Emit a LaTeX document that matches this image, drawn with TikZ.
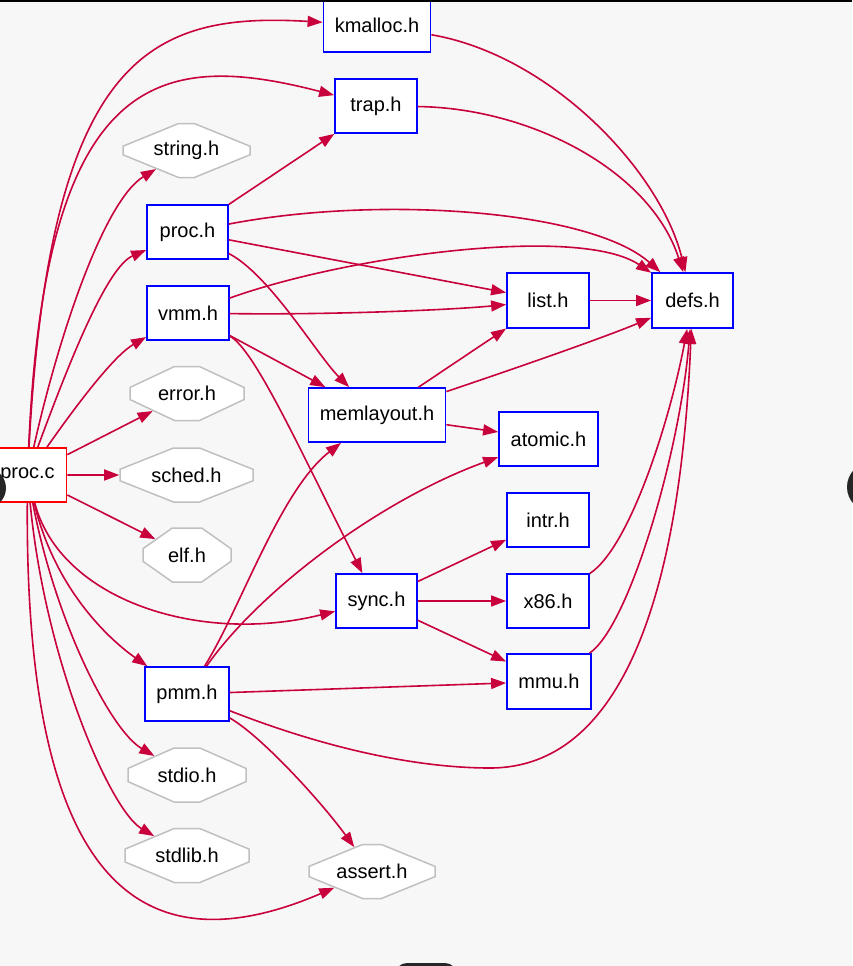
\documentclass[tikz,border=0pt]{standalone}
\usepackage{fontspec}
\setmainfont{Liberation Sans}
\usetikzlibrary{shapes.misc,arrows.meta}
\definecolor{edgec}{HTML}{C8003C}
\definecolor{bgc}{HTML}{F7F7F7}
\definecolor{octc}{HTML}{C0C0C0}
\definecolor{darkc}{HTML}{262626}
\begin{document}
\begin{tikzpicture}[x=1pt,y=-1pt,
  every node/.style={font=\fontsize{20}{24}\selectfont, inner sep=0pt},
  hbox/.style={draw=blue, fill=white, line width=1.8pt, minimum height=54pt},
  srcbox/.style={draw=red, fill=white, line width=1.8pt, minimum height=54pt},
  octa/.style 2 args={chamfered rectangle, draw=octc, fill=white, line width=1.5pt,
    chamfered rectangle xsep=#1pt, chamfered rectangle ysep=15.5pt,
    chamfered rectangle angle=#2, minimum height=54pt},
  dep/.style={draw=edgec, line width=1.6pt, -{Triangle[length=15pt,width=11pt]}},
]
\useasboundingbox (0,0) rectangle (852,966);
\fill[bgc] (0,0) rectangle (852,966);

\node[srcbox, minimum width=78pt] (procc) at (27.5,475) {proc.c};
\node[hbox, minimum width=107pt, minimum height=53pt] (kmalloc) at (377,25.5) {kmalloc.h};
\node[hbox, minimum width=82pt] (trap) at (376,106) {trap.h};
\node[octa={38}{67.8}, minimum width=127pt] (string) at (186.5,150.5) {string.h};
\node[hbox, minimum width=81pt] (proch) at (187.5,232) {proc.h};
\node[hbox, minimum width=82pt] (vmm) at (188,313) {vmm.h};
\node[octa={33}{64.8}, minimum width=114pt] (error) at (187,393.5) {error.h};
\node[hbox, minimum width=137pt] (memlayout) at (377,415) {memlayout.h};
\node[hbox, minimum width=82pt, minimum height=55pt] (list) at (548,300.5) {list.h};
\node[hbox, minimum width=81pt, minimum height=55pt] (defs) at (692.5,300.5) {defs.h};
\node[hbox, minimum width=99pt] (atomic) at (548.5,439) {atomic.h};
\node[octa={39}{68.3}, minimum width=133pt] (sched) at (186.5,475) {sched.h};
\node[octa={22}{54.8}, minimum width=88pt] (elf) at (187,555) {elf.h};
\node[hbox, minimum width=82pt] (intr) at (548,520) {intr.h};
\node[hbox, minimum width=81pt] (sync) at (376.5,601) {sync.h};
\node[hbox, minimum width=82pt] (x86) at (548,601) {x86.h};
\node[hbox, minimum width=84pt, minimum height=55pt] (mmu) at (549,681.5) {mmu.h};
\node[hbox, minimum width=84pt] (pmm) at (187,694) {pmm.h};
\node[octa={35}{66.1}, minimum width=118pt] (stdio) at (187,775) {stdio.h};
\node[octa={37}{67.3}, minimum width=124pt] (stdlib) at (187,855.5) {stdlib.h};
\node[octa={38}{67.8}, minimum width=126pt] (assert) at (372,871.5) {assert.h};

\draw[dep] (procc) .. controls (50,55) and (150,12) .. (kmalloc);
\draw[dep] (procc) .. controls (45,70) and (160,50) .. (trap);
\draw[dep] (procc) .. controls (60,330) and (105,200) .. (string);
\draw[dep] (procc) .. controls (70,360) and (107,267) .. (proch);
\draw[dep] (procc) .. controls (80,400) and (115,355) .. (vmm);
\draw[dep] (procc) -- (error);
\draw[dep] (procc) -- (sched);
\draw[dep] (procc) -- (elf);
\draw[dep] (procc) .. controls (60,600) and (200,645) .. (sync);
\draw[dep] (procc) .. controls (55,590) and (110,640) .. (pmm);
\draw[dep] (procc) .. controls (55,620) and (110,730) .. (stdio);
\draw[dep] (procc) .. controls (45,660) and (110,810) .. (stdlib);
\draw[dep] (procc) .. controls (25,850) and (120,980) .. (assert);

\draw[dep] (proch) -- (trap);
\draw[dep] (proch) .. controls (380,195) and (590,210) .. (defs);
\draw[dep] (proch) -- (list);
\draw[dep] (proch) .. controls (270,275) and (317,355) .. (memlayout);
\draw[dep] (vmm) .. controls (350,255) and (580,225) .. (defs);
\draw[dep] (vmm) .. controls (330,315) and (450,310) .. (list);
\draw[dep] (vmm) -- (memlayout);
\draw[dep] (vmm) .. controls (255,350) and (300,450) .. (sync);
\draw[dep] (memlayout) -- (list);
\draw[dep] (memlayout) .. controls (540,360) and (610,335) .. (defs);
\draw[dep] (memlayout) -- (atomic);
\draw[dep] (list) -- (defs);
\draw[dep] (kmalloc) .. controls (550,55) and (660,170) .. (defs);
\draw[dep] (trap) .. controls (530,108) and (650,170) .. (defs);
\draw[dep] (pmm) .. controls (240,610) and (280,490) .. (memlayout);
\draw[dep] (pmm) .. controls (260,590) and (380,500) .. (atomic);
\draw[dep] (pmm) -- (mmu);
\draw[dep] (pmm) .. controls (330,750) and (420,768) .. (490,768) .. controls (620,768) and (680,600) .. (defs);
\draw[dep] (pmm) .. controls (260,735) and (320,800) .. (assert);
\draw[dep] (sync) -- (intr);
\draw[dep] (sync) -- (x86);
\draw[dep] (sync) -- (mmu);
\draw[dep] (x86) .. controls (630,547) and (670,420) .. (defs);
\draw[dep] (mmu) .. controls (630,625) and (680,450) .. (defs);

\fill[black] (0,0) rectangle (852,2);
\fill[darkc] (-14,488) circle (20);
\fill[darkc] (872,487) circle (25);
\fill[darkc, rounded corners=12pt] (395,963) rectangle (457,1000);
\end{tikzpicture}
\end{document}
